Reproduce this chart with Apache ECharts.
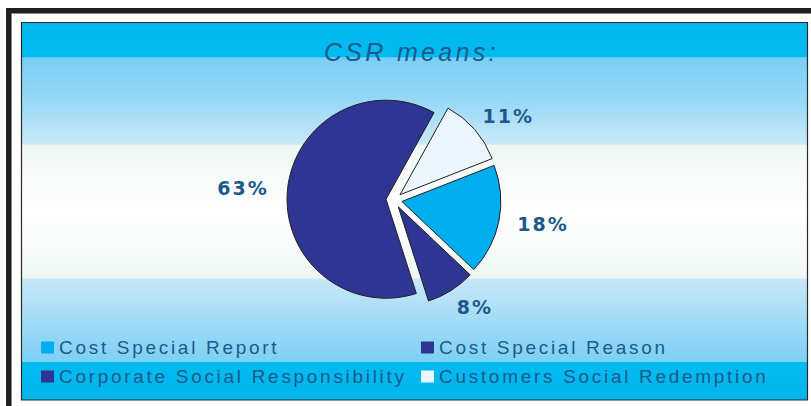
<!DOCTYPE html>
<html>
<head>
<meta charset="utf-8">
<script src="https://cdn.jsdelivr.net/npm/echarts@6/dist/echarts.min.js"></script>
<style>
  html, body { margin: 0; padding: 0; background: #ffffff; }
  #chart { width: 811px; height: 406px; }
  #chart svg text[style*="19px"] { letter-spacing: 2.7px; }
  #chart svg text[style*="bold"] { letter-spacing: 2px; }
  #chart svg text[style*="25px"] { letter-spacing: 3.3px; }
</style>
</head>
<body>
<div id="chart"></div>
<script>
// ---- data ----
const titleText = 'CSR means:';
const categories = ['Customers Social Redemption', 'Cost Special Report', 'Cost Special Reason', 'Corporate Social Responsibility'];
const shares = [11, 18, 8, 63];
const legendColumnA = ['Cost Special Report', 'Corporate Social Responsibility'];
const legendColumnB = ['Cost Special Reason', 'Customers Social Redemption'];

// ---- styling ----
const palette = {
  'Customers Social Redemption': '#eaf6fc',
  'Cost Special Report': '#00aeef',
  'Cost Special Reason': '#2e3592',
  'Corporate Social Responsibility': '#2e3592'
};
const textColor = '#1c5a8c';
const CX = 394, CY = 200;

const chart = echarts.init(document.getElementById('chart'), null, { renderer: 'svg' });

const bgGradient = new echarts.graphic.LinearGradient(0, 0, 0, 1, [
  { offset: 0, color: '#00b6ee' },
  { offset: 0.092, color: '#00bbef' },
  { offset: 0.093, color: '#79cef5' },
  { offset: 0.21, color: '#98d8f6' },
  { offset: 0.322, color: '#cae9f7' },
  { offset: 0.325, color: '#eef6f3' },
  { offset: 0.5, color: '#ffffff' },
  { offset: 0.677, color: '#eef6f2' },
  { offset: 0.68, color: '#c8e7f8' },
  { offset: 0.898, color: '#7dd0f5' },
  { offset: 0.9, color: '#00bbef' },
  { offset: 1, color: '#00b4ec' }
]);

const legendBase = {
  orient: 'vertical',
  top: 338,
  padding: 0,
  itemWidth: 13,
  itemHeight: 12,
  itemGap: 10,
  icon: 'rect',
  selectedMode: false,
  itemStyle: { borderWidth: 0 },
  textStyle: { fontFamily: 'Liberation Sans', fontSize: 19, lineHeight: 19, color: textColor }
};

const option = {
  animation: false,
  graphic: [
    {
      type: 'rect', z: -10, silent: true,
      shape: { x: 8.8, y: 10.7, width: 900, height: 500 },
      style: { fill: 'none', stroke: '#231f20', lineWidth: 5.5 }
    },
    {
      type: 'rect', z: -9, silent: true,
      shape: { x: 21.5, y: 22.5, width: 786, height: 377.5 },
      style: { fill: bgGradient, stroke: '#2b2b2b', lineWidth: 1.2 }
    }
  ],
  title: {
    text: titleText,
    left: 324,
    top: 39,
    padding: 0,
    textStyle: { fontFamily: 'Liberation Sans', fontStyle: 'italic', fontWeight: 'normal', fontSize: 25, color: textColor }
  },
  legend: [
    Object.assign({ left: 41, data: legendColumnA }, legendBase),
    Object.assign({ left: 421, data: legendColumnB }, legendBase)
  ],
  series: [
    {
      type: 'pie',
      center: [CX, CY],
      radius: 99,
      startAngle: 61,
      clockwise: true,
      selectedMode: 'multiple',
      selectedOffset: 8,
      silent: true,
      emphasis: { disabled: true },
      label: { show: false },
      labelLine: { show: false },
      itemStyle: { borderColor: '#231f20', borderWidth: 1 },
      select: { itemStyle: { borderColor: '#231f20', borderWidth: 1 } },
      data: categories.map((n, i) => ({ name: n, value: shares[i], selected: true, itemStyle: { color: palette[n] } }))
    },
    {
      type: 'pie',
      center: [CX, CY],
      radius: [110, 160],
      startAngle: 61,
      clockwise: true,
      silent: true,
      emphasis: { disabled: true },
      itemStyle: { color: 'transparent', borderWidth: 0 },
      label: {
        show: true,
        position: 'inner',
        formatter: '{c}%',
        fontFamily: 'DejaVu Sans',
        fontWeight: 'bold',
        fontSize: 19,
        color: textColor
      },
      labelLine: { show: false },
      labelLayout: function (p) {
        const r = p.labelRect;
        const mx = r.x + r.width / 2;
        const my = r.y + r.height / 2;
        return { dx: (mx - CX) * 0.1, dy: (my - CY) * -0.08 };
      },
      data: categories.map((n, i) => ({ name: n, value: shares[i] }))
    }
  ]
};

chart.setOption(option);
</script>
</body>
</html>
